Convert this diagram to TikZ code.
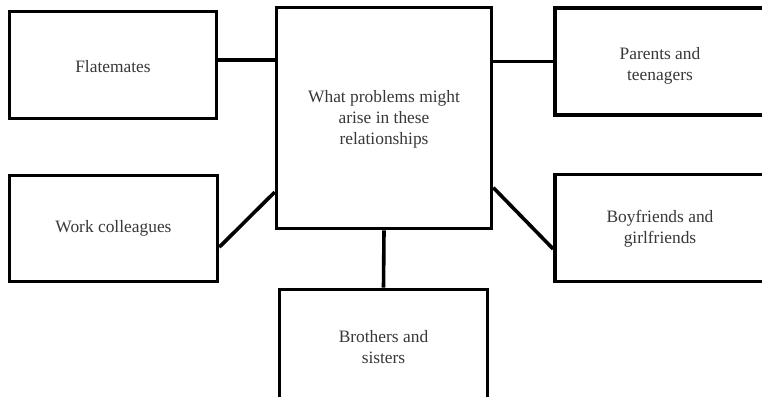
\documentclass[tikz,border=0pt]{standalone}
\usepackage{fontspec}
\setmainfont{Liberation Serif}
\usetikzlibrary{calc}
\begin{document}
\begin{tikzpicture}[x=1bp,y=-1bp,
  box/.style={draw=black,line width=3.6bp,rectangle,inner sep=0pt},
  lbl/.style={inner sep=0pt,align=center,text=black!78,
    font=\fontsize{17.4bp}{21bp}\selectfont},
  link/.style={draw=black,line width=3.6bp}]
  \useasboundingbox (0,0) rectangle (762,396);
  \fill[white] (0,0) rectangle (762,396);
  \clip (0,0) rectangle (762,396);

  % central question and the five relationship boxes
  \node[box,minimum width=215bp,minimum height=221bp] (hub) at (384,118) {};
  \node[box,minimum width=207bp,minimum height=107bp] (flat) at (113,65) {};
  \node[box,minimum width=208bp,minimum height=106bp] (work) at (113.5,228.5) {};
  \node[box,minimum width=210bp,minimum height=107bp] (parents) at (660,61.5) {};
  \node[box,minimum width=210bp,minimum height=107bp] (couples) at (660,228) {};
  \node[box,minimum width=208bp,minimum height=130bp] (siblings) at (383.5,354.5) {};

  % box captions
  \node[lbl] (hub-t) at ([yshift=-1.5bp]hub.center) {What problems might\\arise in these\\relationships};
  \node[lbl] (flat-t) at ([yshift=-1.5bp]flat.center) {Flatemates};
  \node[lbl] (work-t) at (work.center) {Work colleagues};
  \node[lbl] (parents-t) at ([yshift=-4bp]parents.center) {Parents and\\teenagers};
  \node[lbl] (couples-t) at ([yshift=-1bp]couples.center) {Boyfriends and\\girlfriends};
  \node[lbl] (siblings-t) at (383.5,347) {Brothers and\\sisters};

  % connectors
  \draw[link] ([yshift=5bp]flat.east) -- ([yshift=5bp]flat.east -| hub.west);
  \draw[link] (parents.west) -- (parents.west -| hub.east);
  \draw[link] ($(work.north east)!0.67!(work.south east)$) -- ($(hub.north west)!0.83!(hub.south west)$);
  \draw[link] ($(hub.north east)!0.81!(hub.south east)$) -- ($(couples.north west)!0.69!(couples.south west)$);
  \draw[link] (hub.south) -- (siblings.north);
\end{tikzpicture}
\end{document}
